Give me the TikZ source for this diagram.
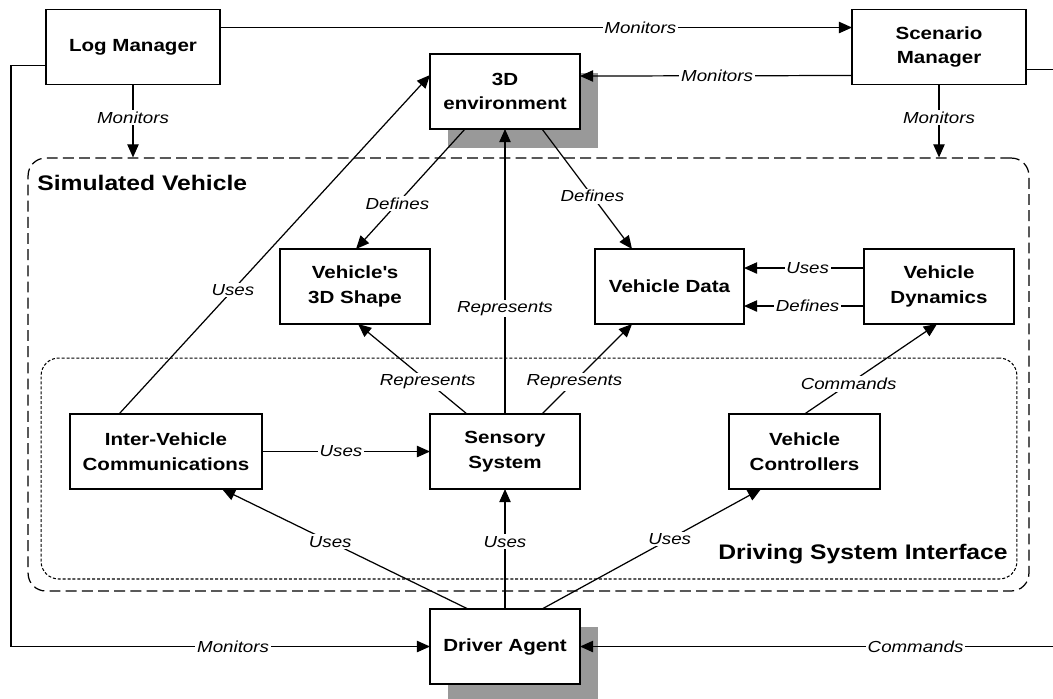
\documentclass[tikz,border=0pt]{standalone}
\usepackage{fontspec}
\setmainfont{Liberation Sans}[FakeStretch=1.17]
\usetikzlibrary{calc,arrows.meta}
\definecolor{shadowgray}{RGB}{153,153,153}
\tikzset{
  box/.style={draw, line width=0.7pt, fill=white, inner sep=0pt, outer sep=0pt,
    minimum height=1.5cm, align=center,
    font=\bfseries\fontsize{10}{14}\selectfont},
  conn/.style={line width=0.7pt, -{Triangle[length=7.5pt,width=6.5pt]}},
  lbl/.style={fill=white, inner sep=1pt, font=\itshape\fontsize{9.1}{11}\selectfont},
  region/.style={font=\bfseries\fontsize{12}{14}\selectfont, inner sep=0pt},
  shade/.style={fill=shadowgray},
}
\begin{document}
\begin{tikzpicture}[x=0.02cm, y=-0.02cm]
\useasboundingbox (0,0) rectangle (1053,698);

% enclosing regions
\node[draw, dash pattern=on 6.2pt off 3pt, line width=0.7pt, rounded corners=10pt,
      minimum width=20.02cm, minimum height=8.66cm, inner sep=0pt] (sv) at (528.5,374.5) {};
\node[draw, dash pattern=on 1.7pt off 1.1pt, line width=0.6pt, rounded corners=10pt,
      minimum width=19.52cm, minimum height=4.42cm, inner sep=0pt] (dsi) at (529,468.5) {};
\node[region, anchor=west] (svlabel) at (37,183) {Simulated Vehicle};
\node[region, anchor=east] (dsilabel) at (1008,554) {Driving System Interface};

% drop shadows
\fill[shade] (448,73) rectangle (598,148);
\fill[shade] (448,627) rectangle (598,702);

% components
\node[box, minimum width=3.48cm] (log)  at (133,47)     {Log Manager};
\node[box, minimum width=3.48cm] (scen) at (939,47)     {Scenario\\Manager};
\node[box, minimum width=3cm]    (env)  at (505,91.5)   {3D\\environment};
\node[box, minimum width=3cm]    (shape) at (355,286.5) {Vehicle\textquotesingle s\\3D Shape};
\node[box, minimum width=2.98cm] (data) at (669.5,286.5) {Vehicle Data};
\node[box, minimum width=3cm]    (dyn)  at (939,286.5)  {Vehicle\\Dynamics};
\node[box, minimum width=3.84cm] (ivc)  at (166,451.5)  {Inter-Vehicle\\Communications};
\node[box, minimum width=3cm]    (sens) at (505,451.5)  {Sensory\\System};
\node[box, minimum width=3.02cm] (ctrl) at (804.5,451.5) {Vehicle\\Controllers};
\node[box, minimum width=3cm]    (drv)  at (505,646.5)  {Driver Agent};

\coordinate (lturn) at (11,300);
\coordinate (rturn) at (1058,300);

% monitoring links
\draw[conn] ($(log.north east)+(0,18)$) -- node[lbl, pos=0.665] {Monitors} ($(scen.north west)+(0,18)$);
\draw[conn] ($(scen.north west)+(0,66)$) -- node[lbl, pos=0.496] {Monitors} ($(env.north east)+(0,22)$);
\draw[conn] (log.south) -- node[lbl, pos=0.45] {Monitors} (log.south |- sv.north);
\draw[conn] (scen.south) -- node[lbl, pos=0.45] {Monitors} (scen.south |- sv.north);
\draw[conn] ($(log.north west)+(0,56)$) -| (lturn) |- node[lbl, pos=0.765] {Monitors} (drv.west);
\draw[conn] ($(scen.north east)+(0,60)$) -| (rturn) |- node[lbl, pos=0.649] {Commands} (drv.east);

% environment links
\draw[conn] ($(env.south west)+(35,0)$) -- node[lbl, pos=0.62] {Defines} ($(shape.north west)+(76,0)$);
\draw[conn] ($(env.south west)+(112,0)$) -- node[lbl, pos=0.56] {Defines} ($(data.north west)+(37,0)$);
\draw[conn] (sens.north) -- node[lbl, pos=0.37] {Represents} (env.south);
\draw[conn] ($(sens.north west)+(37,0)$) -- node[lbl, pos=0.36] {Represents} ($(shape.south west)+(78,0)$);
\draw[conn] ($(sens.north west)+(112,0)$) -- node[lbl, pos=0.36] {Represents} ($(data.south west)+(37,0)$);
\draw[conn] ($(ivc.north west)+(49,0)$) -- node[lbl, pos=0.366] {Uses} ($(env.north west)+(0,21)$);

% vehicle links
\draw[conn] (ivc.east) -- node[lbl, pos=0.47] {Uses} (sens.west);
\draw[conn] ($(dyn.north west)+(0,19)$) -- node[lbl, pos=0.47] {Uses} ($(data.north east)+(0,19)$);
\draw[conn] ($(dyn.north west)+(0,57)$) -- node[lbl, pos=0.47] {Defines} ($(data.north east)+(0,57)$);
\draw[conn] (ctrl.north) -- node[lbl, pos=0.333] {Commands} ($(dyn.south west)+(73,0)$);

% driver links
\draw[conn] ($(drv.north west)+(38,0)$) -- node[lbl, pos=0.56] {Uses} ($(ivc.south west)+(152,0)$);
\draw[conn] (drv.north) -- node[lbl, pos=0.56] {Uses} (sens.south);
\draw[conn] ($(drv.north west)+(112,0)$) -- node[lbl, pos=0.583] {Uses} ($(ctrl.south west)+(32,0)$);
\end{tikzpicture}
\end{document}
